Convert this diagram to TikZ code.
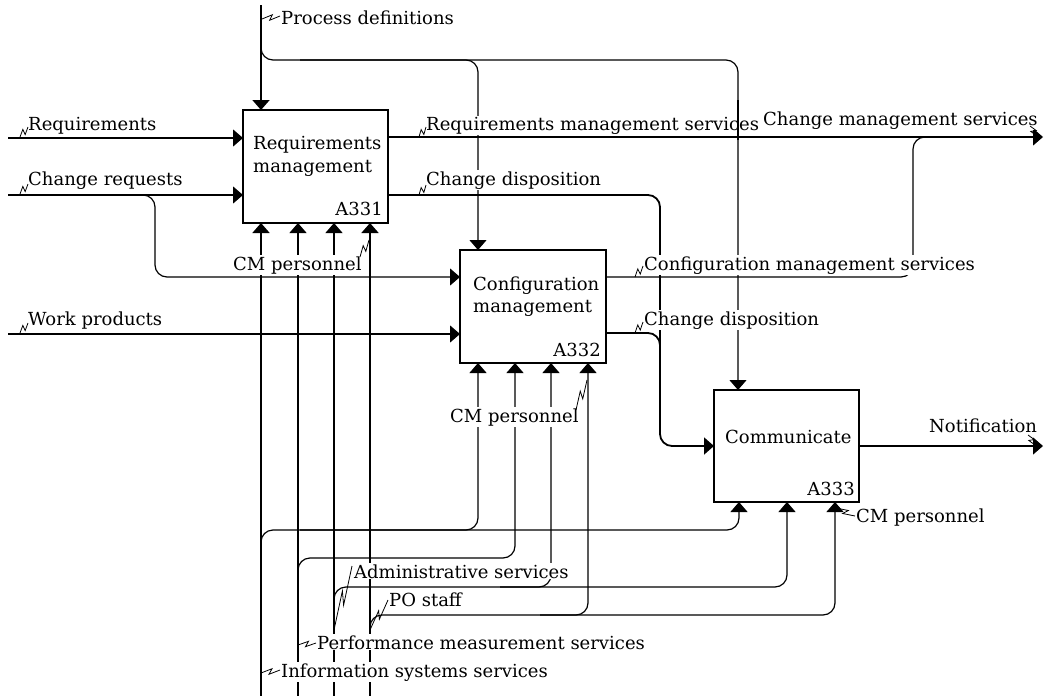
\documentclass[tikz,border=0pt]{standalone}
\usepackage{fontspec}
\setmainfont{DejaVu Serif}
\usetikzlibrary{arrows.meta,calc}

\newcommand\lblfont{\fontsize{18}{21}\selectfont}
% small IDEF0 squiggle tying a label to its arrow
\newcommand\squig[2]{\draw[squigline] (#1) -- ($(#1)!0.6!(#2)!2.5pt!90:(#2)$) -- ($(#1)!0.4!(#2)!2.5pt!-90:(#2)$) -- (#2);}

\tikzset{
  flow/.style={line width=1.2pt, rounded corners=12pt},
  heavy/.style={line width=1.8pt},
  tip/.style={-{Triangle[length=10pt,width=17pt]}},
  act/.style={draw, line width=1.2pt, fill=white, inner sep=0pt, outer sep=0pt, anchor=north west},
  lab/.style={anchor=base west, fill=white, inner sep=1pt, font=\lblfont},
  boxtxt/.style={inner sep=0pt, font=\lblfont},
  squigline/.style={line width=0.8pt}
}

\begin{document}
\begin{tikzpicture}[x=1pt, y=-1pt]
\useasboundingbox (0,0) rectangle (1044,696);

% activity boxes
\node[act, minimum width=145pt, minimum height=113pt] (A331) at (243,110) {};
\node[act, minimum width=146pt, minimum height=113pt] (A332) at (460,250) {};
\node[act, minimum width=145pt, minimum height=112pt] (A333) at (714,390) {};

\node[boxtxt, anchor=base west] (t331a) at (253,149) {Requirements};
\node[boxtxt, anchor=base west] (t331b) at (253,172) {management};
\node[boxtxt, anchor=base east] (n331) at (383,215) {A331};
\node[boxtxt, anchor=base west] (t332a) at (473,290) {Configuration};
\node[boxtxt, anchor=base west] (t332b) at (473,312) {management};
\node[boxtxt, anchor=base east] (n332) at (601,356) {A332};
\node[boxtxt, anchor=base west] (t333a) at (725,443) {Communicate};
\node[boxtxt, anchor=base east] (n333) at (855,495) {A333};

% controls
\coordinate (pdTop) at (261,5);
\draw[flow,heavy,tip] (pdTop) -- (A331.north -| 261,0);
\draw[flow,tip] (261,35) |- (738,60) -- (A333.north -| 738,0);
\draw[flow,tip] (300,60) -| (A332.north -| 478,0);

% inputs
\coordinate (reqIn) at (8,138);
\coordinate (crIn) at (8,195);
\coordinate (wpIn) at (8,334);
\draw[flow,tip] (reqIn) -- (A331.west |- 0,138);
\draw[flow,tip] (crIn) -- (A331.west |- 0,195);
\draw[flow,tip] (120,195) -| (155,277) -- (A332.west |- 0,277);
\draw[flow,tip] (wpIn) -- (A332.west |- 0,334);

% outputs
\coordinate (cmsOut) at (1043,137);
\coordinate (notOut) at (1043,446);
\draw[flow,tip] (A331.east |- 0,137) -- (cmsOut);
\draw[flow,heavy,tip] (A331.east |- 0,195) -| (660,446) -- (A333.west |- 0,446);
\draw[flow,heavy] (A332.east |- 0,333) -| (660,420);
\draw[flow] (A332.east |- 0,277) -| (913,137) -- (960,137);
\draw[flow,tip] (A333.east |- 0,446) -- (notOut);

% mechanisms
\draw[flow,heavy,tip] (261,696) -- (A331.south -| 261,0);
\draw[flow,tip] (261,560) |- (739,530) -- (A333.south -| 739,0);
\draw[flow,tip] (300,530) -| (A332.south -| 478,0);
\draw[flow,tip] (298,696) -- (A331.south -| 298,0);
\draw[flow,tip] (298,575) |- (515,558) -- (A332.south -| 515,0);
\draw[flow,tip] (334,696) -- (A331.south -| 334,0);
\draw[flow,tip] (334,610) |- (787,587) -- (A333.south -| 787,0);
\draw[flow,tip] (500,587) -| (A332.south -| 551,0);
\draw[flow,heavy,tip] (370,696) -- (A331.south -| 370,0);
\draw[flow,tip] (370,635) |- (835,615) -- (A333.south -| 835,0);
\draw[flow,tip] (540,615) -| (A332.south -| 588,0);

% arrow labels
\node[lab] (lPD) at (280,24) {Process definitions};
\node[lab] (lReq) at (27,130) {Requirements};
\node[lab] (lCR) at (27,185) {Change requests};
\node[lab] (lWP) at (27,325) {Work products};
\node[lab] (lRMS) at (425,130) {Requirements management services};
\node[lab] (lCD1) at (425,185) {Change disposition};
\node[lab] (lCHMS) at (762,125) {Change management services};
\node[lab] (lCfMS) at (643,270) {Configuration management services};
\node[lab] (lCD2) at (643,325) {Change disposition};
\node[lab] (lNot) at (928,432) {Notification};
\node[lab] (lCM1) at (232,270) {CM personnel};
\node[lab] (lCM2) at (449,422) {CM personnel};
\node[lab] (lCM3) at (855,522) {CM personnel};
\node[lab] (lAS) at (353,578) {Administrative services};
\node[lab] (lPO) at (388,606) {PO staff};
\node[lab] (lPMS) at (316,649) {Performance measurement services};
\node[lab] (lISS) at (280,677) {Information systems services};

% the control line to A333 runs over the end of its neighbouring label
\draw[flow] (738,100) -- (738,140);

% squiggles
\squig{262,19}{280,16}
\squig{20,137}{28,127}
\squig{20,194}{28,184}
\squig{20,333}{28,323}
\squig{419,137}{426,127}
\squig{419,195}{426,185}
\squig{1037,136}{1030,126}
\squig{635,277}{643,266}
\squig{635,333}{643,322}
\squig{1035,445}{1028,435}
\squig{369,240}{360,257}
\squig{587,380}{576,410}
\squig{836,508}{855,516}
\squig{334,630}{352,566}
\squig{370,630}{388,600}
\squig{298,645}{316,643}
\squig{261,673}{280,670}
\end{tikzpicture}
\end{document}
